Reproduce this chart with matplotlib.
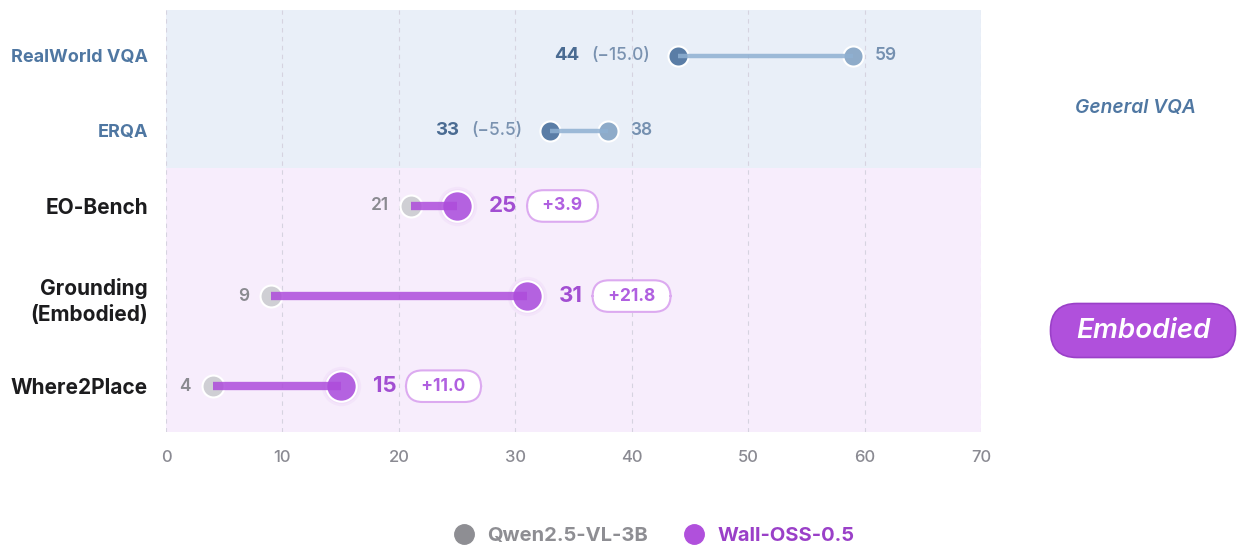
import matplotlib
matplotlib.use("Agg")
import matplotlib.pyplot as plt
from matplotlib.lines import Line2D
from matplotlib.patches import FancyBboxPatch

# ---------------- data ----------------
categories = ["RealWorld VQA", "ERQA", "EO-Bench", "Grounding\n(Embodied)", "Where2Place"]
groups = ["General VQA", "General VQA", "Embodied", "Embodied", "Embodied"]
qwen_scores = [59, 38, 21, 9, 4]
wall_scores = [44, 33, 25, 31, 15]
delta_values = [-15.0, -5.5, 3.9, 21.8, 11.0]
x_ticks = [0, 10, 20, 30, 40, 50, 60, 70]
series_names = ["Qwen2.5-VL-3B", "Wall-OSS-0.5"]

# ---------------- style ----------------
FONT = ["Inter", "DejaVu Sans"]
plt.rcParams["font.family"] = FONT

W, H = 1238, 546
fig = plt.figure(figsize=(W / 100, H / 100), dpi=100)
ax = fig.add_axes([166 / W, 1 - 432 / H, (981 - 166) / W, (432 - 10) / H])

row_y = [0, 1, 2, 3.2, 4.4]
y_top, y_bot, y_split = -0.61, 5.01, 1.5
ax.set_xlim(0, 70)
ax.set_ylim(y_bot, y_top)

ax.axhspan(y_top, y_split, color="#e9eff8", zorder=0, lw=0)
ax.axhspan(y_split, y_bot, color="#f7edfc", zorder=0, lw=0)
for t in x_ticks:
    ax.axvline(t, color="#d6d3e0", ls=(0, (4, 4)), lw=0.8, zorder=1)

for s in ax.spines.values():
    s.set_visible(False)
ax.set_xticks(x_ticks)
ax.tick_params(axis="x", length=0, pad=13, labelsize=12, labelcolor="#8a8a92")
ax.set_yticks(row_y)
ax.set_yticklabels(categories)
ax.tick_params(axis="y", length=0, pad=13)
for lab, g in zip(ax.get_yticklabels(), groups):
    lab.set_fontweight("bold")
    lab.set_linespacing(1.4)
    if g == "General VQA":
        lab.set_color("#4f77a2")
        lab.set_fontsize(13)
    else:
        lab.set_color("#1c1c1e")
        lab.set_fontsize(15)
for lab in ax.get_xticklabels():
    lab.set_fontweight("medium")

PX = 0.72  # points per pixel

for y, q, w, d, g in zip(row_y, qwen_scores, wall_scores, delta_values, groups):
    if g == "General VQA":
        ax.scatter([q], [y], s=210, color="#8eabc9", edgecolor="white", linewidth=1.5, zorder=3)
        ax.scatter([w], [y], s=210, color="#5a7da6", edgecolor="white", linewidth=1.5, zorder=3)
        ax.plot([w, q], [y, y], color="#8fb0d2", lw=3.2, alpha=0.85, zorder=4,
                solid_capstyle="butt")
        ax.annotate(f"{q}", (q, y), xytext=(22 * PX, 0), textcoords="offset points",
                    ha="left", va="center", fontsize=12.5, fontweight="semibold", color="#7590b0")
        dt = ax.annotate(f"({d:.1f})".replace("-", "\u2212"), (w, y), xytext=(-28 * PX, 0),
                         textcoords="offset points", ha="right", va="center",
                         fontsize=12.5, fontweight="medium", color="#7a92b0")
        ax.annotate(f"{w}", (0, 0.5), xycoords=dt, xytext=(-12 * PX, 0),
                    textcoords="offset points", ha="right", va="center",
                    fontsize=13.5, fontweight="bold", color="#4a6b92")
    else:
        ax.scatter([w], [y], s=800, color="#b45ee0", alpha=0.06, lw=0, zorder=2)
        ax.scatter([w], [y], s=620, color="#b45ee0", alpha=0.06, lw=0, zorder=2)
        ax.scatter([q], [y], s=250, color="#cfcfd4", edgecolor="white", linewidth=1.5, zorder=3)
        ax.scatter([w], [y], s=480, color="#b462e0", edgecolor="white", linewidth=1.5, zorder=3)
        ax.plot([q, w], [y, y], color="#ad4cdb", lw=6, alpha=0.85, zorder=4,
                solid_capstyle="butt")
        ax.annotate(f"{q}", (q, y), xytext=(-22 * PX, 0), textcoords="offset points",
                    ha="right", va="center", fontsize=12.5, fontweight="semibold", color="#8a8a90")
        wt = ax.annotate(f"{w}", (w, y), xytext=(32 * PX, 0), textcoords="offset points",
                         ha="left", va="center", fontsize=16, fontweight="bold", color="#a24ed2")
        ax.annotate(f"  +{d:.1f}  ", (1, 0.5), xycoords=wt, xytext=(17 * PX, 0),
                    textcoords="offset points", ha="left", va="center",
                    fontsize=12.5, fontweight="bold", color="#b060e0",
                    bbox=dict(boxstyle="round,pad=0.42,rounding_size=0.95", fc="white",
                              ec="#dcaaf0", lw=1.5))

# ---------------- section labels ----------------
fig.text(1135 / W, 1 - 108 / H, "General VQA", ha="center", va="center",
         fontsize=13.8, fontweight="semibold", style="italic", color="#4f77a2")

ov = fig.add_axes([0, 0, 1, 1], zorder=5)
ov.set_xlim(0, W)
ov.set_ylim(H, 0)
ov.axis("off")
ov.patch.set_alpha(0)
ov.add_patch(FancyBboxPatch((1050 + 27, 304 + 26), 186 - 54, 53 - 52,
                            boxstyle="round,pad=26.5", fc="#b050dc", ec="#9a40c8", lw=1.2))
ov.text(1143, 331, "Embodied", ha="center", va="center", fontsize=20,
        fontweight="semibold", style="italic", color="white")

# ---------------- legend ----------------
handles = [Line2D([], [], marker="o", ls="", markersize=14, color="#8e8e93"),
           Line2D([], [], marker="o", ls="", markersize=14, color="#b050dc")]
leg = fig.legend(handles, series_names, loc="center", bbox_to_anchor=(649 / W, 1 - 536 / H),
                 ncol=2, frameon=False, columnspacing=1.3, handletextpad=0.15,
                 prop=dict(family=FONT, size=14.5, weight="bold"))
for txt, c in zip(leg.get_texts(), ["#8e8e93", "#9a40c8"]):
    txt.set_color(c)

fig.savefig("out.png", dpi=100)
